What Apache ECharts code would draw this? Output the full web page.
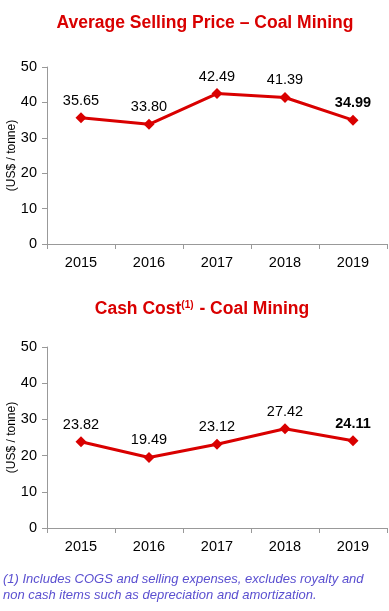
<!DOCTYPE html>
<html>
<head>
<meta charset="utf-8">
<script src="https://cdn.jsdelivr.net/npm/echarts@6/dist/echarts.min.js"></script>
<style>
html,body{margin:0;padding:0;background:#fff;}
#c{width:389px;height:611px;}
</style>
</head>
<body>
<div id="c"></div>
<script>
const years = ['2015', '2016', '2017', '2018', '2019'];
const sellingPrice = [35.65, 33.80, 42.49, 41.39, 34.99];
const cashCost = [23.82, 19.49, 23.12, 27.42, 24.11];
const yTicks = [0, 10, 20, 30, 40, 50];

const RED = '#d90000';
const FONT = 'Liberation Sans, Arial, sans-serif';

function labelFmt(arr) {
  return function (p) {
    const v = arr[p.dataIndex].toFixed(2);
    return p.dataIndex === arr.length - 1 ? '{b|' + v + '}' : v;
  };
}

const axisCommonX = (gi) => ({
  type: 'category', gridIndex: gi, data: years, boundaryGap: true,
  axisLine: { lineStyle: { color: '#999', width: 1 } },
  axisTick: { show: true, alignWithLabel: false, length: 5, lineStyle: { color: '#999' } },
  axisLabel: { color: '#000', fontSize: 14.5, fontFamily: FONT, margin: 11 },
  splitLine: { show: false }
});
const axisCommonY = (gi) => ({
  type: 'value', gridIndex: gi, min: yTicks[0], max: yTicks[yTicks.length - 1], interval: 10,
  name: '(US$ / tonne)', nameLocation: 'middle', nameGap: 29, nameRotate: 90,
  nameMoveOverlap: false,
  nameTextStyle: { color: '#000', fontSize: 12, fontFamily: FONT },
  axisLine: { show: true, lineStyle: { color: '#999', width: 1 } },
  axisTick: { show: true, length: 5, lineStyle: { color: '#999' } },
  axisLabel: { color: '#000', fontSize: 14.5, fontFamily: FONT, margin: 10 },
  splitLine: { show: false }
});

const seriesCommon = (gi, arr) => ({
  type: 'line', xAxisIndex: gi, yAxisIndex: gi, data: arr,
  symbol: 'diamond', symbolSize: 11,
  lineStyle: { color: RED, width: 3 },
  itemStyle: { color: RED },
  label: {
    show: true, position: 'top', distance: 4,
    color: '#000', fontSize: 14.5, fontFamily: FONT,
    formatter: labelFmt(arr),
    rich: { b: { fontWeight: 'bold', fontSize: 14.5, color: '#000', fontFamily: FONT } }
  },
  animation: false
});

const chart = echarts.init(document.getElementById('c'), null, { renderer: 'canvas' });
chart.setOption({
  backgroundColor: '#fff',
  animation: false,
  title: [
    {
      text: 'Average Selling Price – Coal Mining',
      left: 200, top: 9, textAlign: 'center',
      textStyle: { color: RED, fontSize: 17.5, fontWeight: 'bold', fontFamily: FONT }
    },
    {
      text: '{a|Cash Cost}{s|(1)}{a| - Coal Mining}',
      left: 197, top: 295, textAlign: 'center',
      textStyle: {
        rich: {
          a: { color: RED, fontSize: 17.5, fontWeight: 'bold', fontFamily: FONT },
          s: { color: RED, fontSize: 10, fontWeight: 'bold', fontFamily: FONT, verticalAlign: 'top', padding: [0, 1, 8, 0] }
        }
      }
    }
  ],
  grid: [
    { left: 47, right: 2, top: 67, height: 177, containLabel: false, outerBoundsMode: 'none' },
    { left: 47, right: 2, top: 347, height: 181, containLabel: false, outerBoundsMode: 'none' }
  ],
  xAxis: [axisCommonX(0), axisCommonX(1)],
  yAxis: [axisCommonY(0), axisCommonY(1)],
  series: [seriesCommon(0, sellingPrice), seriesCommon(1, cashCost)],
  graphic: [
    {
      type: 'text', left: 3, top: 572,
      style: {
        text: '(1) Includes COGS and selling expenses, excludes royalty and\nnon cash items such as depreciation and amortization.',
        fill: '#5a4fd0', fontSize: 13, fontStyle: 'italic', fontFamily: FONT, lineHeight: 15.5
      }
    }
  ]
});
</script>
</body>
</html>
